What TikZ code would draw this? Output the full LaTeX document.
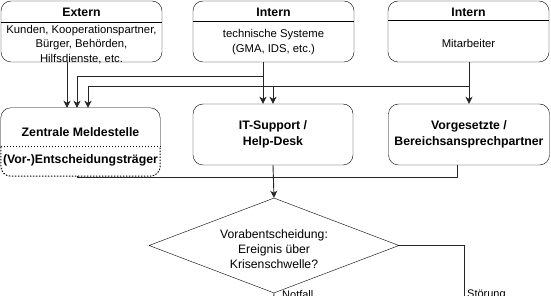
\documentclass[tikz,border=0pt]{standalone}
\usepackage{fontspec}
\setmainfont{Liberation Sans}
\usetikzlibrary{arrows.meta,shapes.geometric}

\tikzset{
  box/.style={draw, rounded corners=10pt, minimum width=161pt, minimum height=61pt, inner sep=0pt},
  head/.style={font=\fontsize{12.3}{14}\selectfont\bfseries},
  body/.style={font=\fontsize{11.3}{14.5}\selectfont, align=center},
  bold/.style={font=\fontsize{12.3}{16.5}\selectfont\bfseries, align=center},
  flow/.style={draw=black!85, line width=0.9pt},
  arr/.style={flow, -{Stealth[length=7pt,width=7pt,inset=2pt]}},
  lbl/.style={font=\fontsize{11}{13}\selectfont, inner sep=0pt},
}

\begin{document}
\begin{tikzpicture}[x=1pt,y=-1pt]
  \useasboundingbox (0,0) rectangle (551,296);

  % Meldequellen
  \node[box] (ext) at (81.5,31.5) {};
  \node[head] (exth) at (81.5,12.5) {Extern};
  \node[body] (extb) at (81.5,44.5) {Kunden, Kooperationspartner,\\Bürger, Behörden,\\Hilfsdienste, etc.};
  \draw ([yshift=-21pt]ext.north west) -- ([yshift=-21pt]ext.north east);

  \node[box] (int) at (273.5,31.5) {};
  \node[head] (inth) at (273.5,12) {Intern};
  \node[body] (intb) at (273.5,42) {technische Systeme\\(GMA, IDS, etc.)};
  \draw ([yshift=-20pt]int.north west) -- ([yshift=-20pt]int.north east);

  \node[box] (ma) at (468.5,31.5) {};
  \node[head] (mah) at (468.5,12) {Intern};
  \node[body] (mab) at (468.5,43) {Mitarbeiter};
  \draw ([yshift=-19.5pt]ma.north west) -- ([yshift=-19.5pt]ma.north east);

  % Meldestellen
  \node[minimum width=159pt, minimum height=39pt, inner sep=0pt] (zm) at (80.5,127.5) {};
  \node[bold] (zmt) at (80.5,132) {Zentrale Meldestelle};
  \node[minimum width=159pt, minimum height=29pt, inner sep=0pt] (ent) at (80.5,161.5) {};
  \node[bold] (entt) at (80.5,160) {(Vor-)Entscheidungsträger};
  \draw[rounded corners=10pt] (zm.south west) -- (zm.north west) -- (zm.north east) -- (zm.south east);
  \draw[dash pattern=on 1.5pt off 1.5pt, line width=1pt] (ent.north west) -- (ent.north east);
  \draw[dash pattern=on 1.5pt off 1.5pt, line width=1pt, rounded corners=10pt]
    (ent.north west) -- (ent.south west) -- (ent.south east) -- (ent.north east);

  \node[box, bold, minimum width=160pt] (it) at (273,134.5) {IT-Support /\\Help-Desk};
  \node[box, bold] (vg) at (469,134.5) {Vorgesetzte /\\Bereichsansprechpartner};

  % Entscheidung
  \node[diamond, draw, aspect=2.6, minimum width=250pt, minimum height=95pt, inner sep=0pt] (dec) at (274,245.5) {};
  \node[body, font=\fontsize{12.2}{15}\selectfont] (dect) at (274,249) {Vorabentscheidung:\\Ereignis über\\Krisenschwelle?};

  \node[lbl, anchor=north west] (nft) at (282,290.5) {Notfall};
  \node[lbl, anchor=north west] (stt) at (467,289.5) {Störung};

  % Knickpunkte der Verbinder
  \coordinate (ca) at (67,0);
  \coordinate (cb) at (77,0);
  \coordinate (cc) at (88,0);
  \coordinate (ce) at (273,0);
  \coordinate (cg) at (457,0);
  \coordinate (j1) at (263,76);
  \coordinate (j2) at (469,86);
  \coordinate (j3) at (273,177);
  \coordinate (st) at (464,320);
  \coordinate (nf) at (273,320);

  % Verbinder
  \draw[arr] (ext.south -| ca) -- (zm.north -| ca);
  \draw[flow] (int.south -| j1) -- (j1);
  \draw[arr] (j1) -- (it.north -| j1);
  \draw[arr] (j1) -| (zm.north -| cb);
  \draw[flow] (ma.south -| j2) -- (j2);
  \draw[arr] (j2) -- (vg.north -| j2);
  \draw[arr] (j2) -| (zm.north -| cc);
  \draw[arr] (j2 -| ce) -- (it.north -| ce);

  \draw[flow] (ent.south -| cb) |- (j3);
  \draw[flow] (vg.south -| cg) |- (j3);
  \draw[arr] (it.south -| j3) -- (dec.north);

  \draw[flow] (dec.east) -| (st);
  \draw[flow] (dec.south) -- (nf);
\end{tikzpicture}
\end{document}
